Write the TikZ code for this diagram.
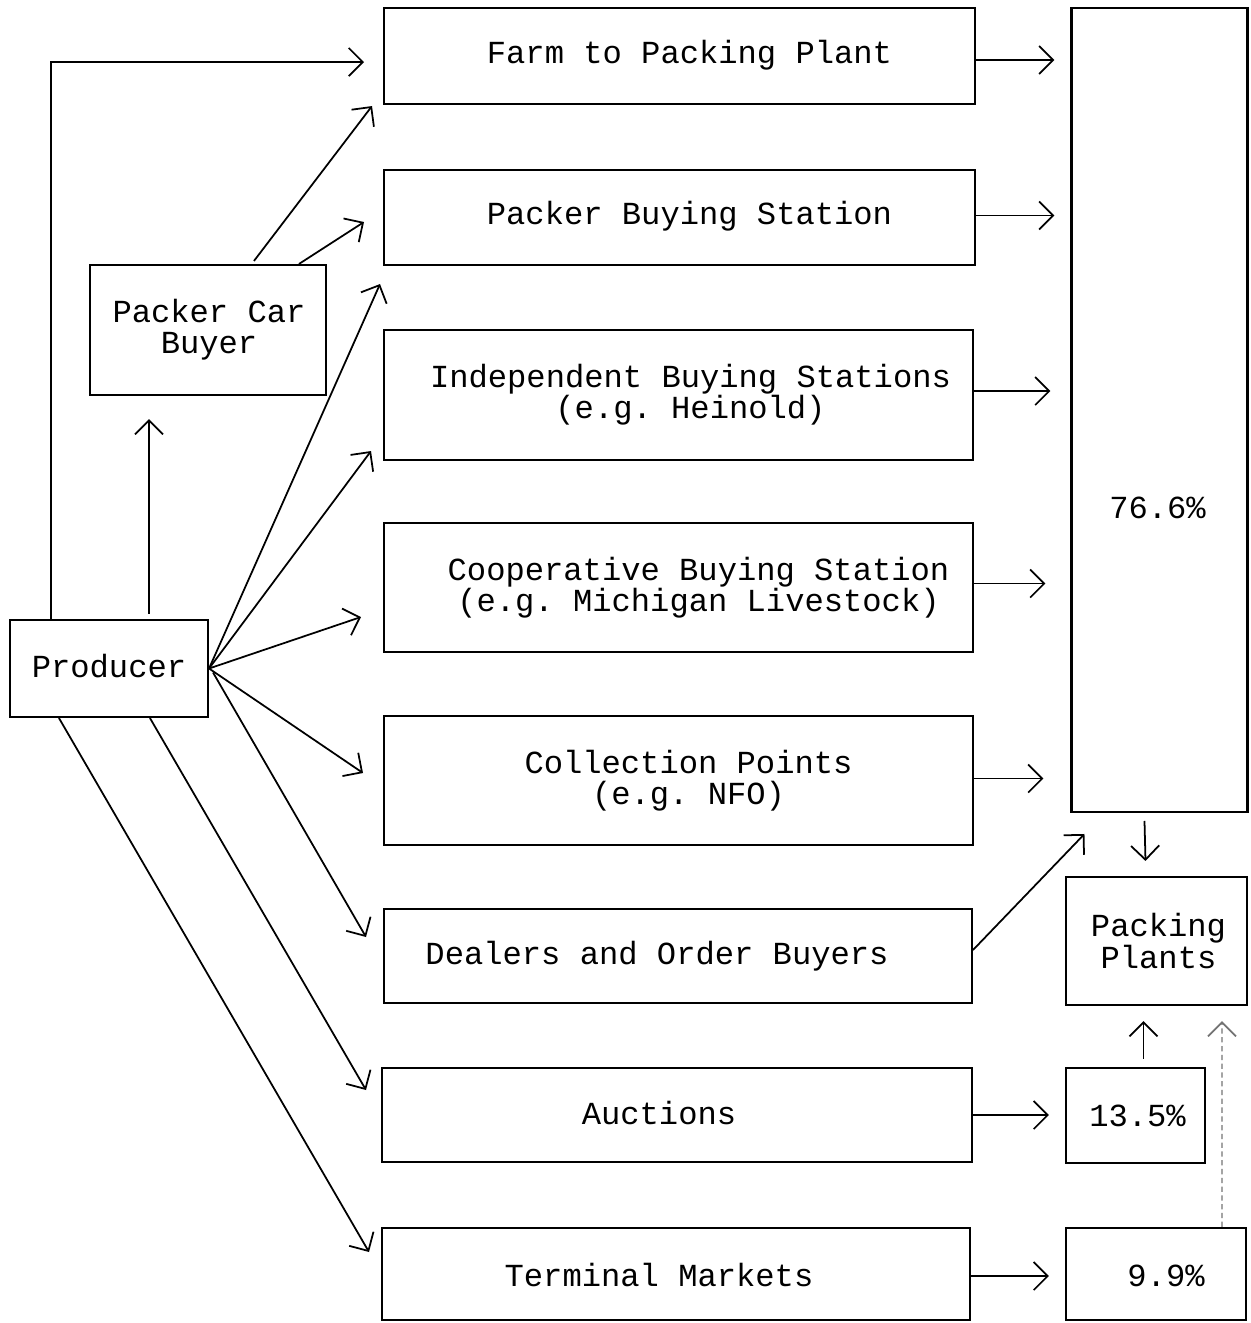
\documentclass[tikz,border=0pt]{standalone}
\usepackage{fontspec}
\newfontfamily\tw{Liberation Mono}
\usetikzlibrary{arrows.meta,calc}
\begin{document}
\begin{tikzpicture}[x=0.02cm,y=-0.02cm,
  boxstyle/.style={draw=black,line width=1.2pt,inner sep=0pt,rectangle},
  txt/.style={font=\tw\fontsize{18.3}{17.8}\selectfont\frenchspacing,align=center,inner sep=0pt},
  arr/.style={draw=black,line width=1pt,-{Straight Barb[length=8pt,width=16pt,line width=1pt]}},
  faint/.style={arr,draw=black!55,densely dashed,line width=0.8pt}]
\useasboundingbox (0,0) rectangle (1251,1323);
% boxes
\node[boxstyle,minimum width=11.82cm,minimum height=1.92cm] (farm) at (679.5,56) {};
\node[boxstyle,minimum width=11.82cm,minimum height=1.90cm] (pbs) at (679.5,217.5) {};
\node[boxstyle,minimum width=11.78cm,minimum height=2.60cm] (ind) at (678.5,395) {};
\node[boxstyle,minimum width=11.78cm,minimum height=2.58cm] (coop) at (678.5,587.5) {};
\node[boxstyle,minimum width=11.78cm,minimum height=2.58cm] (coll) at (678.5,780.5) {};
\node[boxstyle,minimum width=11.76cm,minimum height=1.88cm] (deal) at (678,956) {};
\node[boxstyle,minimum width=11.80cm,minimum height=1.88cm] (auc) at (677,1115) {};
\node[boxstyle,minimum width=11.76cm,minimum height=1.84cm] (term) at (676,1274) {};
\node[boxstyle,minimum width=4.72cm,minimum height=2.60cm] (pcb) at (208,330) {};
\node[boxstyle,minimum width=3.96cm,minimum height=1.94cm] (prod) at (109,668.5) {};
\node[boxstyle,minimum width=3.52cm,minimum height=16.08cm] (big) at (1159.5,410) {};
\node[boxstyle,minimum width=3.62cm,minimum height=2.56cm] (pp) at (1156.5,941) {};
\node[boxstyle,minimum width=2.78cm,minimum height=1.90cm] (p135) at (1135.5,1115.5) {};
\node[boxstyle,minimum width=3.60cm,minimum height=1.84cm] (p99) at (1156,1274) {};
% texts
\node[txt] (farmT) at ($(farm)+(10,-1)$) {Farm to Packing Plant};
\node[txt] (pbsT) at ($(pbs)+(10,-1)$) {Packer Buying Station};
\node[txt] (indT) at ($(ind)+(12,0)$) {Independent Buying Stations\\(e.g. Heinold)};
\node[txt] (coopT) at ($(coop)+(20,0)$) {Cooperative Buying Station\\(e.g. Michigan Livestock)};
\node[txt] (collT) at ($(coll)+(10,0)$) {Collection Points\\(e.g. NFO)};
\node[txt] (dealT) at ($(deal)+(-21,0)$) {Dealers and Order Buyers};
\node[txt] (aucT) at ($(auc)+(-18,-2)$) {Auctions};
\node[txt] (termT) at ($(term)+(-17,1)$) {Terminal Markets};
\node[txt] (pcbT) at ($(pcb)+(1,0)$) {Packer Car\\Buyer};
\node[txt] (prodT) at ($(prod)+(0,-2)$) {Producer};
\node[txt] (bigT) at ($(big)+(-2,98)$) {76.6\%};
\node[txt] (ppT) at ($(pp)+(2,0)$) {Packing\\Plants};
\node[txt] (p135T) at ($(p135)+(2,0)$) {13.5\%};
\node[txt] (p99T) at ($(p99)+(10,2)$) {9.9\%};
% arrow tips
\coordinate (tFarm) at ($(farm.west)+(-19,6)$);
\coordinate (tFarm2) at ($(farm.south west)+(-11,1)$);
\coordinate (tPbs) at ($(pbs.west)+(-19,4.5)$);
\coordinate (tPcb) at ($(pcb.south west)+(60,23)$);
\coordinate (tPbs2) at ($(pbs.south west)+(-3,18)$);
\coordinate (tInd) at ($(ind.south west)+(-12,-10)$);
\coordinate (tCoop) at ($(coop.west)+(-22,29.5)$);
\coordinate (tColl) at ($(coll.west)+(-20,-7.5)$);
\coordinate (tDeal) at ($(deal.west)+(-17,-19)$);
\coordinate (tAuc) at ($(auc.west)+(-15,-25)$);
\coordinate (tTerm) at ($(term.west)+(-12,-22)$);
\coordinate (tBig) at ($(big.south west)+(14,21)$);
% left side connectors
\draw[arr] ($(prod.north west)+(42,0)$) |- (tFarm);
\draw[arr] ($(pcb.north west)+(165,-3)$) -- (tFarm2);
\draw[arr] ($(pcb.north west)+(210,0)$) -- (tPbs);
\draw[arr] ($(prod.north west)+(140,-5)$) -- (tPcb);
\draw[arr] (prod.east) -- (tPbs2);
\draw[arr] (prod.east) -- (tInd);
\draw[arr] (prod.east) -- (tCoop);
\draw[arr] (prod.east) -- (tColl);
\draw[arr] ($(prod.east)+(4,4)$) -- (tDeal);
\draw[arr] ($(prod.south west)+(141,0)$) -- (tAuc);
\draw[arr] ($(prod.south west)+(50,0)$) -- (tTerm);
% right side connectors
\draw[arr,shorten >=0.32cm] ($(farm.east)+(0,4)$) -- ($(farm.east -| big.west)+(0,4)$);
\draw[arr,shorten >=0.32cm] ($(pbs.east)+(0,-2)$) -- ($(pbs.east -| big.west)+(0,-2)$);
\draw[arr,shorten >=0.40cm] ($(ind.east)+(0,-4)$) -- ($(ind.east -| big.west)+(0,-4)$);
\draw[arr,shorten >=0.50cm] ($(coop.east)+(0,-4)$) -- ($(coop.east -| big.west)+(0,-4)$);
\draw[arr,shorten >=0.54cm] ($(coll.east)+(0,-2)$) -- ($(coll.east -| big.west)+(0,-2)$);
\draw[arr] ($(deal.east)+(0,-6)$) -- (tBig);
\draw[arr] ($(big.south)+(-15,8)$) -- ($(pp.north)+(-11,-15)$);
\draw[arr,shorten >=0.32cm] (auc.east) -- (auc.east -| p135.west);
\draw[arr,shorten >=0.32cm] ($(term.east)+(0,2)$) -- ($(term.east -| p99.west)+(0,2)$);
\draw[arr] ($(p135.north)+(8,-8)$) -- ($(pp.south)+(-13,15)$);
\draw[faint] ($(p99.north)+(66,0)$) -- ($(pp.south)+(65.5,15)$);
\end{tikzpicture}
\end{document}
